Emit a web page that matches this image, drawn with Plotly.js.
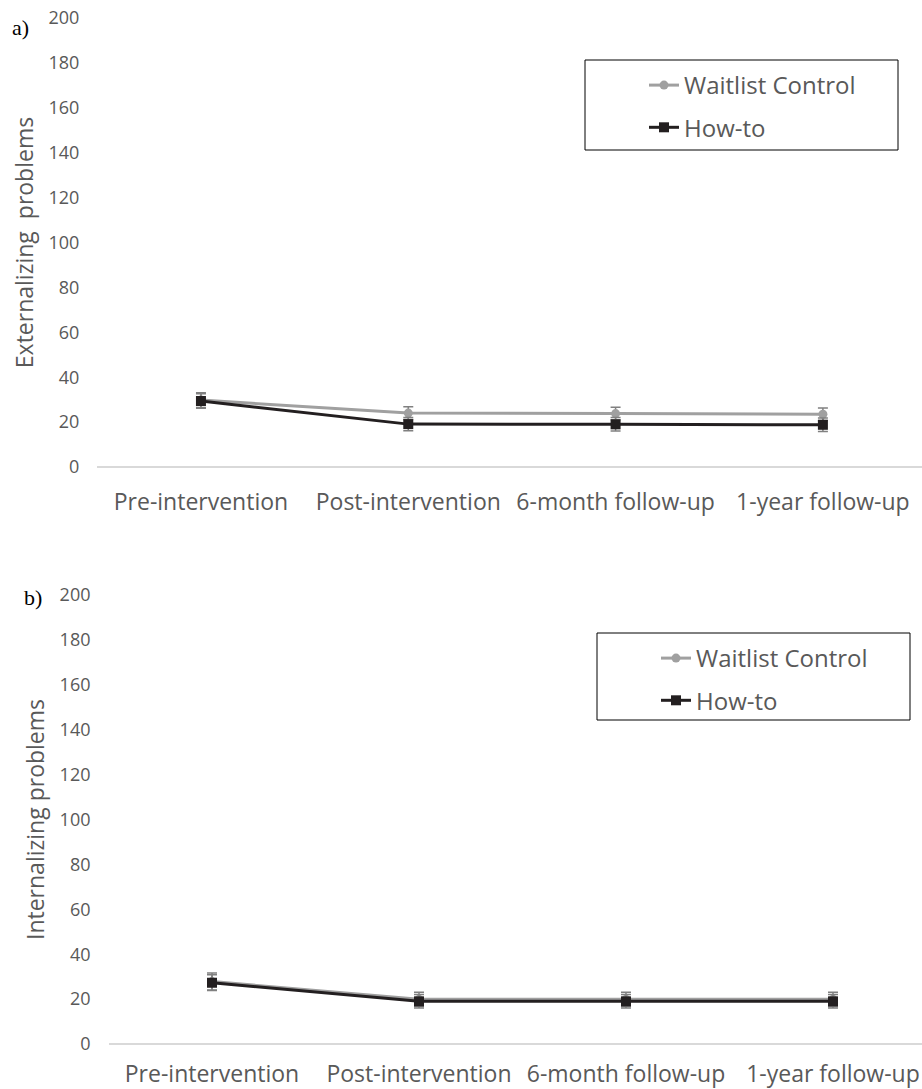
<!DOCTYPE html>
<html>
<head>
<meta charset="utf-8">
<script src="https://cdn.plot.ly/plotly-3.0.1.min.js"></script>
<style>html,body{margin:0;padding:0;background:#fff;overflow:hidden}</style>
</head>
<body>
<div id="chart" style="width:922px;height:1089px"></div>
<script>
// ---- data ----
var timepoints = ['Pre-intervention', 'Post-intervention', '6-month follow-up', '1-year follow-up'];
var seriesNames = ['Waitlist Control', 'How-to'];
var yTicks = [0, 20, 40, 60, 80, 100, 120, 140, 160, 180, 200];

// Panel a) Externalizing problems
var extWaitlist = [29.8, 24.0, 23.8, 23.5];
var extWaitlistErr = [3.3, 2.8, 2.8, 2.8];
var extHowto = [29.4, 19.1, 19.0, 18.8];
var extHowtoErr = [3.2, 3.0, 3.0, 3.0];

// Panel b) Internalizing problems
var intWaitlist = [27.8, 19.9, 19.9, 19.9];
var intWaitlistErr = [3.8, 3.2, 3.2, 3.2];
var intHowto = [27.3, 19.0, 19.0, 19.0];
var intHowtoErr = [3.5, 3.0, 3.0, 3.0];

var W = 922, H = 1089;
function px(x){ return x / W; }
function py(y){ return 1 - y / H; }

var FONT = 'Open Sans, sans-serif';
var GREY_TXT = '#595959';
var WAIT_COL = '#a0a0a0';
var HOW_COL = '#231f20';
var ERR_COL = '#808080';

function waitTrace(y, err, xa, ya, leg, show){
  return {
    type: 'scatter', mode: 'lines+markers', name: seriesNames[0],
    x: [0,1,2,3], y: y, xaxis: xa, yaxis: ya, legend: leg, legendgroup: leg + 'w',
    line: {color: WAIT_COL, width: 3},
    marker: {symbol: 'circle', size: 9, color: WAIT_COL},
    error_y: {type: 'data', array: err, visible: true, color: ERR_COL, thickness: 1.5, width: 5},
    showlegend: show
  };
}
function howTrace(y, err, xa, ya, leg, show){
  return {
    type: 'scatter', mode: 'lines+markers', name: seriesNames[1],
    x: [0,1,2,3], y: y, xaxis: xa, yaxis: ya, legend: leg, legendgroup: leg + 'h',
    line: {color: HOW_COL, width: 3},
    marker: {symbol: 'square', size: 10, color: HOW_COL},
    error_y: {type: 'data', array: err, visible: true, color: ERR_COL, thickness: 1.5, width: 5},
    showlegend: show
  };
}

var data = [
  waitTrace(extWaitlist, extWaitlistErr, 'x', 'y', 'legend', true),
  howTrace(extHowto, extHowtoErr, 'x', 'y', 'legend', true),
  waitTrace(intWaitlist, intWaitlistErr, 'x2', 'y2', 'legend2', true),
  howTrace(intHowto, intHowtoErr, 'x2', 'y2', 'legend2', true)
];

function xAxis(domain, range, anchor, standoff){
  return {
    domain: domain, range: range, anchor: anchor,
    tickmode: 'array', tickvals: [0,1,2,3], ticktext: timepoints,
    showgrid: false, zeroline: false, showline: false, ticks: '',
    tickfont: {family: FONT, size: 23, color: GREY_TXT},
    ticklabelstandoff: standoff, fixedrange: true
  };
}
function yAxis(domain, anchor, title){
  return {
    domain: domain, range: [0, 200], anchor: anchor,
    tickmode: 'array', tickvals: yTicks, ticktext: yTicks.map(String),
    showgrid: false, zeroline: true, zerolinecolor: '#d9d9d9', zerolinewidth: 1.5,
    showline: false, ticks: '',
    tickfont: {family: FONT, size: 18, color: GREY_TXT},
    ticklabelstandoff: 17,
    title: {text: title, font: {family: FONT, size: 23, color: GREY_TXT}, standoff: 8},
    fixedrange: true
  };
}

// Panel geometry (pixels)
var aLeft = 97.3, aTop = 18, aBottom = 467;
var bLeft = 108.5, bTop = 595, bBottom = 1044;

var layout = {
  width: W, height: H,
  margin: {l: 0, r: 0, t: 0, b: 0},
  paper_bgcolor: '#ffffff', plot_bgcolor: '#ffffff',
  font: {family: FONT, color: GREY_TXT},
  xaxis: xAxis([px(aLeft), 1], [-0.5, 3.478], 'y', 19),
  yaxis: yAxis([py(aBottom), py(aTop)], 'x', 'Externalizing  problems'),
  xaxis2: xAxis([px(bLeft), 1], [-0.5, 3.43], 'y2', 14),
  yaxis2: yAxis([py(bBottom), py(bTop)], 'x2', 'Internalizing problems'),
  legend: {
    x: px(644), y: py(63), xanchor: 'left', yanchor: 'top',
    bgcolor: 'rgba(0,0,0,0)', borderwidth: 0,
    font: {family: FONT, size: 24, color: GREY_TXT},
    tracegroupgap: 8, itemclick: false, itemdoubleclick: false
  },
  legend2: {
    x: px(656), y: py(636), xanchor: 'left', yanchor: 'top',
    bgcolor: 'rgba(0,0,0,0)', borderwidth: 0,
    font: {family: FONT, size: 24, color: GREY_TXT},
    tracegroupgap: 8, itemclick: false, itemdoubleclick: false
  },
  shapes: [
    {type: 'rect', xref: 'paper', yref: 'paper', x0: px(585), x1: px(898), y0: py(150), y1: py(60),
     line: {color: '#000000', width: 1}, fillcolor: 'rgba(0,0,0,0)'},
    {type: 'rect', xref: 'paper', yref: 'paper', x0: px(597), x1: px(910), y0: py(720), y1: py(633),
     line: {color: '#000000', width: 1}, fillcolor: 'rgba(0,0,0,0)'}
  ],
  annotations: [
    {text: 'a)', xref: 'paper', yref: 'paper', x: px(10), y: py(27), xanchor: 'left', yanchor: 'middle',
     showarrow: false, font: {family: 'Liberation Serif, Times New Roman, serif', size: 22, color: '#000000'}},
    {text: 'b)', xref: 'paper', yref: 'paper', x: px(22), y: py(597), xanchor: 'left', yanchor: 'middle',
     showarrow: false, font: {family: 'Liberation Serif, Times New Roman, serif', size: 22, color: '#000000'}}
  ]
};

Plotly.newPlot('chart', data, layout, {staticPlot: true, displayModeBar: false});
</script>
</body>
</html>
